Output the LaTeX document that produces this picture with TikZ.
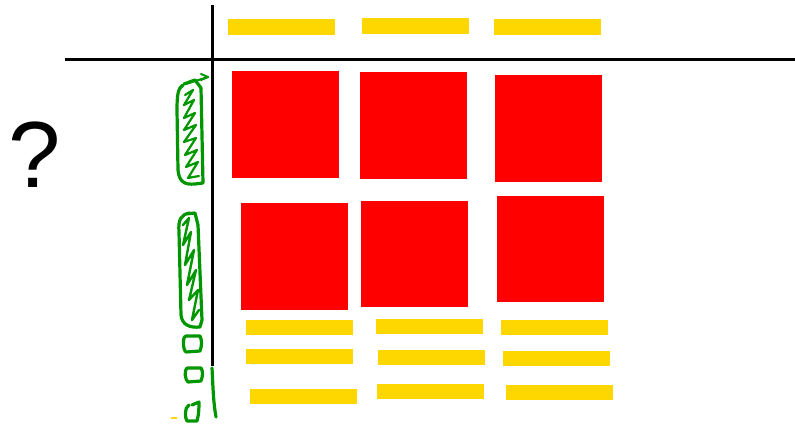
\documentclass[tikz,border=0pt]{standalone}
\usepackage{fontspec}
\setmainfont{Liberation Sans}
\begin{document}
\begin{tikzpicture}[x=1pt,y=-1pt,
  axis/.style={line width=3pt,black},
  bar/.style={fill={rgb,255:red,255;green,215;blue,0},draw=none},
  card/.style={fill={rgb,255:red,255;green,0;blue,0},draw=none},
  scrib/.style={draw={rgb,255:red,0;green,150;blue,0},line width=3.2pt,line cap=round,line join=round}]
\useasboundingbox (0,0) rectangle (795,427);
% axes
\coordinate (vt) at (212,5); \coordinate (vb) at (212,366);
\coordinate (hl) at (65,60); \coordinate (hr) at (795,60);
\draw[axis] (vt) -- (vb);
\draw[axis] (hl) -- (hr);
% top bars
\fill[bar] (228,19) rectangle (335,35);
\fill[bar] (362,18) rectangle (469,34);
\fill[bar] (494,19) rectangle (601,35);
% red squares
\fill[card] (232,71) rectangle (339,178);
\fill[card] (360,72) rectangle (467,179);
\fill[card] (495,75) rectangle (602,182);
\fill[card] (241,203) rectangle (348,310);
\fill[card] (361,201) rectangle (468,307);
\fill[card] (497,196) rectangle (604,302);
% bottom bars
\fill[bar] (246,320) rectangle (353,335);
\fill[bar] (376,319) rectangle (483,334);
\fill[bar] (501,320) rectangle (608,335);
\fill[bar] (246,349) rectangle (353,364);
\fill[bar] (378,350) rectangle (485,365);
\fill[bar] (503,351) rectangle (610,366);
\fill[bar] (250,389) rectangle (357,404);
\fill[bar] (377,384) rectangle (484,399);
\fill[bar] (506,385) rectangle (613,400);
\fill[bar] (171,417) rectangle (177,419);
% question mark
\node[font=\fontsize{94}{94}\selectfont,inner sep=0pt] (q) at (35,155) {?};
% green scribbles: first
\draw[scrib] (183,85) .. controls (178,88) and (177,95) .. (177,110)
  -- (178,170) .. controls (179,182) and (185,185) .. (195,184) -- (203,183)
  -- (201,88) -- (195,80) -- (184,84);
\draw[scrib,line width=2pt] (186,84) -- (208,77);
\draw[scrib,line width=2pt] (201,74) -- (208,77) -- (201,80);
\draw[scrib,line width=2.2pt] (185,95) -- (193,90) -- (184,105) -- (194,100) -- (184,118) -- (195,113)
  -- (184,130) -- (196,125) -- (184,142) -- (196,138) -- (185,155) -- (197,150) -- (186,167) -- (198,162) -- (188,178) -- (199,176);
% second
\draw[scrib] (190,213) .. controls (181,214) and (178,220) .. (179,232)
  -- (181,315) .. controls (182,325) and (190,328) .. (200,327) -- (202,320)
  -- (198,225) -- (195,213) -- (186,214);
\draw[scrib,line width=2.4pt] (183,225) -- (189,218) -- (183,245) -- (191,232) -- (185,265) -- (194,250)
  -- (187,285) -- (196,270) -- (189,300) -- (198,290) -- (192,320) -- (199,310);
% small squares
\draw[scrib] (186,336) .. controls (182,337) and (183,350) .. (186,352) -- (200,351)
  .. controls (202,346) and (202,340) .. (200,336) -- (186,336);
\draw[scrib] (187,368) .. controls (184,370) and (185,380) .. (188,382) -- (201,381)
  .. controls (203,376) and (203,371) .. (201,368) -- (187,368);
\draw[scrib] (189,405) .. controls (184,408) and (185,418) .. (187,421) -- (197,421)
  .. controls (199,414) and (199,407) .. (199,402) -- (192,405);
% green line under axis
\draw[scrib] (212,368) .. controls (213,385) and (213,400) .. (216,417);
\end{tikzpicture}
\end{document}
